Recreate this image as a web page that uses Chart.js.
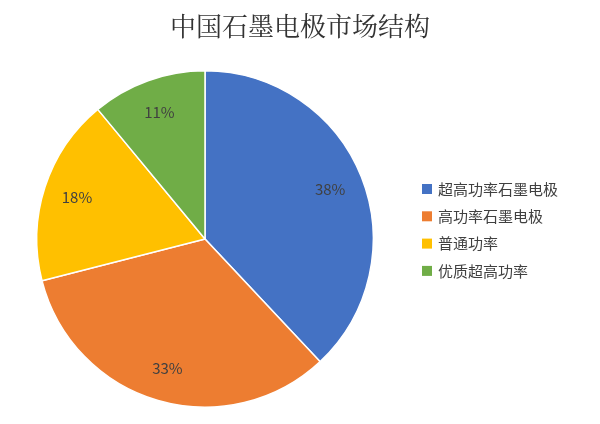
<!DOCTYPE html>
<html><head><meta charset="utf-8">
<script src="https://cdn.jsdelivr.net/npm/chart.js@4"></script>
<style>html,body{margin:0;padding:0;background:#fff}#w{width:600px;height:424px}</style>
</head><body><div id="w"><canvas id="c"></canvas></div>
<script>
const categories = ["超高功率石墨电极","高功率石墨电极","普通功率","优质超高功率"];
const values = [38,33,18,11];
const colors = ["#4472C4","#ED7D31","#FFC000","#70AD47"];
const titleText = "中国石墨电极市场结构";
const FONT = "'Noto Sans CJK SC','Noto Sans',sans-serif";
const extras = {
  id:'extras',
  afterDraw(chart){
    const ctx = chart.ctx;
    ctx.save();
    ctx.fillStyle = '#333';
    ctx.font = "26px 'Noto Serif CJK SC','Noto Sans CJK SC',serif";
    ctx.textAlign = 'center'; ctx.textBaseline = 'middle';
    ctx.fillText(titleText, 300, 26);
    const meta = chart.getDatasetMeta(0);
    ctx.font = "15px " + FONT;
    ctx.fillStyle = '#404040';
    meta.data.forEach((arc, i) => {
      const a = (arc.startAngle + arc.endAngle)/2;
      const r = arc.outerRadius*0.8;
      ctx.fillText(values[i] + '%', arc.x + Math.cos(a)*r, arc.y + Math.sin(a)*r);
    });
    ctx.textAlign = 'left';
    ctx.font = "15px " + FONT;
    categories.forEach((c,i) => {
      const y = 189 + i*27.3;
      ctx.fillStyle = colors[i];
      ctx.fillRect(422, y-5, 10, 10);
      ctx.fillStyle = '#404040';
      ctx.fillText(c, 438, y);
    });
    ctx.restore();
  }
};
new Chart(document.getElementById('c'), {
  type: 'pie',
  data: { labels: categories, datasets: [{ data: values, backgroundColor: colors, borderColor: '#fff', borderWidth: 1.5 }] },
  options: {
    responsive: true, maintainAspectRatio: false, animation: false,
    layout: { padding: { left: 36, right: 226, top: 70, bottom: 16 } },
    plugins: { legend: { display: false }, tooltip: { enabled: false } }
  },
  plugins: [extras]
});
</script></body></html>
